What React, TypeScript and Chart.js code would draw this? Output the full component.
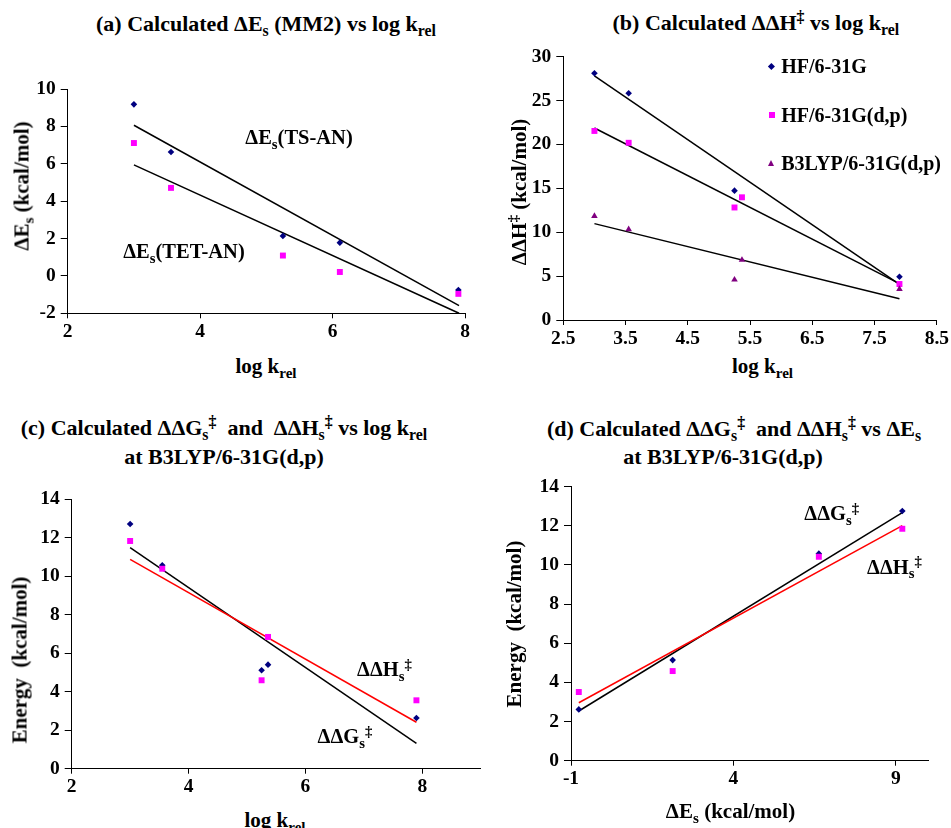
import React, { useEffect, useRef } from 'react';
import { Chart, registerables } from 'chart.js';

Chart.register(...registerables);

const FONT = "'Liberation Serif', 'Times New Roman', serif";
const NAVY = '#000080';
const MAGENTA = '#FF00FF';
const PURPLE = '#800080';
const RED = '#FF0000';
const BLACK = '#000000';

// ---------- Panel (a): ΔEs (MM2) vs log krel ----------
const aLogK = [3.0, 3.56, 5.25, 6.11, 7.9];
const aTsAn = [9.18, 6.63, 2.14, 1.78, -0.75];
const aTetAn = [7.11, 4.71, 1.09, 0.21, -0.96];
const aFitX = [3.0, 7.91];
const aTsFit = [8.06, -1.59];
const aTetFit = [5.94, -2.0];
const aXTicks = [2, 4, 6, 8];
const aYTicks = [-2, 0, 2, 4, 6, 8, 10];

// ---------- Panel (b): ΔΔH‡ vs log krel ----------
const bHfX = [3.0, 3.55, 5.25, 7.9];
const bHfY = [28.12, 25.83, 14.74, 4.92];
const bLogK = [3.0, 3.55, 5.25, 5.37, 7.9];
const bHfDp = [21.54, 20.19, 12.82, 13.98, 4.1];
const bB3lyp = [11.84, 10.34, 4.59, 6.84, 3.53];
const bFitX = [3.0, 7.9];
const bHfFit = [27.82, 4.05];
const bHfDpFit = [21.88, 4.15];
const bB3lypFit = [10.98, 2.41];
const bXTicks = [2.5, 3.5, 4.5, 5.5, 6.5, 7.5, 8.5];
const bYTicks = [0, 5, 10, 15, 20, 25, 30];

// ---------- Panel (c): ΔΔGs‡ and ΔΔHs‡ vs log krel ----------
const cLogK = [3.0, 3.55, 5.25, 5.36, 7.9];
const cDDG = [12.7, 10.56, 5.11, 5.4, 2.63];
const cDDH = [11.82, 10.38, 4.59, 6.84, 3.55];
const cFitX = [3.0, 7.9];
const cDDGFit = [11.47, 1.32];
const cDDHFit = [10.87, 2.41];
const cXTicks = [2, 4, 6, 8];
const cYTicks = [0, 2, 4, 6, 8, 10, 12, 14];

// ---------- Panel (d): ΔΔGs‡ and ΔΔHs‡ vs ΔEs ----------
const dEs = [-0.76, 2.13, 6.63, 9.2];
const dDDG = [2.62, 5.14, 10.58, 12.76];
const dDDH = [3.51, 4.58, 10.42, 11.85];
const dFitX = [-0.76, 9.2];
const dDDGFit = [2.54, 12.67];
const dDDHFit = [2.96, 12.01];
const dXTicks = [-1, 4, 9];
const dYTicks = [0, 2, 4, 6, 8, 10, 12, 14];

const TICK_SIZE = 19.5;
const TITLE_SIZE = 22;
const AXIS_TITLE_SIZE = 21;
const NOTE_SIZE = 20.5;
const LEGEND_SIZE = 20;

const pts = (xs: number[], ys: number[]) => xs.map((x, i) => ({ x, y: ys[i] }));

const scatterDs = (xs: number[], ys: number[], color: string, style: string, radius: number) => ({
  data: pts(xs, ys),
  showLine: false,
  pointStyle: style,
  pointRadius: radius,
  pointBackgroundColor: color,
  pointBorderColor: color,
  pointBorderWidth: 0,
  clip: false,
});

const lineDs = (xs: number[], ys: number[], color: string) => ({
  data: pts(xs, ys),
  showLine: true,
  borderColor: color,
  borderWidth: 1.5,
  pointRadius: 0,
  fill: false,
  clip: false,
});

const axis = (min: number, max: number, ticks: number[], size: number, isX: boolean) => ({
  type: 'linear',
  min,
  max,
  afterBuildTicks: (s: any) => {
    s.ticks = ticks.map((v) => ({ value: v }));
  },
  afterFit: (s: any) => {
    if (isX) s.height = size;
    else s.width = size;
  },
  grid: {
    display: true,
    drawOnChartArea: false,
    drawTicks: true,
    tickLength: isX ? 5 : 7,
    color: BLACK,
    lineWidth: 1,
  },
  border: { display: true, color: BLACK, width: 1 },
  ticks: {
    color: BLACK,
    font: { family: FONT, size: TICK_SIZE, weight: 'bold' },
    padding: isX ? 2 : 5,
    autoSkip: false,
    maxRotation: 0,
    callback: (v: any) => String(v),
  },
});

type Box = { left: number; top: number; width: number; height: number };
type Area = { L: number; T: number; R: number; B: number };

function ChartPanel(props: {
  box: Box;
  area: Area;
  xr: [number, number];
  xTicks: number[];
  yr: [number, number];
  yTicks: number[];
  datasets: any[];
}) {
  const ref = useRef<HTMLCanvasElement>(null);
  const { box, area, xr, xTicks, yr, yTicks, datasets } = props;
  useEffect(() => {
    const chart = new Chart(ref.current as HTMLCanvasElement, {
      type: 'scatter',
      data: { datasets },
      options: {
        animation: false,
        responsive: false,
        events: [],
        layout: {
          autoPadding: false,
          padding: {
            left: 0,
            top: area.T - box.top,
            right: box.left + box.width - area.R,
            bottom: 0,
          },
        },
        plugins: { legend: { display: false }, tooltip: { enabled: false } },
        scales: {
          x: axis(xr[0], xr[1], xTicks, box.top + box.height - area.B, true),
          y: axis(yr[0], yr[1], yTicks, area.L - box.left, false),
        },
      } as any,
    });
    return () => chart.destroy();
  }, []);
  return (
    <canvas
      ref={ref}
      width={box.width}
      height={box.height}
      style={{ position: 'absolute', left: box.left, top: box.top, width: box.width, height: box.height }}
    />
  );
}

const Sub = ({ children }: { children: any }) => (
  <span style={{ fontSize: '0.72em', position: 'relative', top: '0.3em' }}>{children}</span>
);
const Sup = ({ children }: { children: any }) => (
  <span style={{ fontSize: '0.72em', position: 'relative', top: '-0.5em' }}>{children}</span>
);

function Label(props: { x: number; y: number; size?: number; rotate?: boolean; children: any }) {
  const { x, y, size = NOTE_SIZE, rotate = false, children } = props;
  return (
    <div
      style={{
        position: 'absolute',
        left: x,
        top: y,
        transform: `translate(-50%, -50%)${rotate ? ' rotate(-90deg)' : ''}`,
        fontFamily: FONT,
        fontWeight: 'bold',
        fontSize: size,
        lineHeight: 1,
        whiteSpace: 'pre',
        color: BLACK,
      }}
    >
      {children}
    </div>
  );
}

function LegendRow(props: { x: number; y: number; shape: string; color: string; text: string }) {
  const { x, y, shape, color, text } = props;
  let marker: any;
  if (shape === 'diamond') {
    marker = (
      <div
        style={{
          position: 'absolute', left: x - 2.4, top: y - 2.4, width: 4.8, height: 4.8,
          background: color, transform: 'rotate(45deg)',
        }}
      />
    );
  } else if (shape === 'square') {
    marker = <div style={{ position: 'absolute', left: x - 3, top: y - 3, width: 6, height: 6, background: color }} />;
  } else {
    marker = (
      <div
        style={{
          position: 'absolute', left: x - 3.5, top: y - 3.5, width: 0, height: 0,
          borderLeft: '3.5px solid transparent', borderRight: '3.5px solid transparent',
          borderBottom: `6px solid ${color}`,
        }}
      />
    );
  }
  return (
    <>
      {marker}
      <div
        style={{
          position: 'absolute', left: x + 9.5, top: y, transform: 'translateY(-50%)',
          fontFamily: FONT, fontWeight: 'bold', fontSize: LEGEND_SIZE, lineHeight: 1, whiteSpace: 'pre', color: BLACK,
        }}
      >
        {text}
      </div>
    </>
  );
}

export default function App() {
  const aDatasets = [
    scatterDs(aLogK, aTetAn, MAGENTA, 'rect', 4.2),
    scatterDs(aLogK, aTsAn, NAVY, 'rectRot', 3.3),
    lineDs(aFitX, aTsFit, BLACK),
    lineDs(aFitX, aTetFit, BLACK),
  ];
  const bDatasets = [
    scatterDs(bLogK, bB3lyp, PURPLE, 'triangle', 3.8),
    scatterDs(bLogK, bHfDp, MAGENTA, 'rect', 4.2),
    scatterDs(bHfX, bHfY, NAVY, 'rectRot', 3.3),
    lineDs(bFitX, bHfFit, BLACK),
    lineDs(bFitX, bHfDpFit, BLACK),
    lineDs(bFitX, bB3lypFit, BLACK),
  ];
  const cDatasets = [
    scatterDs(cLogK, cDDH, MAGENTA, 'rect', 4.2),
    scatterDs(cLogK, cDDG, NAVY, 'rectRot', 3.3),
    lineDs(cFitX, cDDHFit, RED),
    lineDs(cFitX, cDDGFit, BLACK),
  ];
  const dDatasets = [
    scatterDs(dEs, dDDH, MAGENTA, 'rect', 4.2),
    scatterDs(dEs, dDDG, NAVY, 'rectRot', 3.3),
    lineDs(dFitX, dDDHFit, RED),
    lineDs(dFitX, dDDGFit, BLACK),
  ];

  return (
    <div
      style={{
        position: 'absolute', left: 0, top: 0, width: 951, height: 828,
        background: '#ffffff', overflow: 'hidden',
      }}
    >
      <ChartPanel
        box={{ left: 0, top: 70, width: 480, height: 275 }}
        area={{ L: 67.7, T: 89, R: 465, B: 313.3 }}
        xr={[2, 8]} xTicks={aXTicks} yr={[-2, 10]} yTicks={aYTicks}
        datasets={aDatasets}
      />
      <ChartPanel
        box={{ left: 490, top: 40, width: 461, height: 305 }}
        area={{ L: 563.3, T: 54, R: 937.3, B: 320 }}
        xr={[2.5, 8.5]} xTicks={bXTicks} yr={[0, 30]} yTicks={bYTicks}
        datasets={bDatasets}
      />
      <ChartPanel
        box={{ left: 0, top: 480, width: 490, height: 320 }}
        area={{ L: 71.7, T: 499, R: 480.7, B: 768.7 }}
        xr={[2, 9]} xTicks={cXTicks} yr={[0, 14]} yTicks={cYTicks}
        datasets={cDatasets}
      />
      <ChartPanel
        box={{ left: 490, top: 470, width: 461, height: 330 }}
        area={{ L: 571, T: 486.7, R: 928.3, B: 760.7 }}
        xr={[-1, 10]} xTicks={dXTicks} yr={[0, 14]} yTicks={dYTicks}
        datasets={dDatasets}
      />

      {/* Panel (a) texts */}
      <Label x={266} y={24} size={TITLE_SIZE}>
        (a) Calculated ΔE<Sub>s</Sub> (MM2) vs log k<Sub>rel</Sub>
      </Label>
      <Label x={266} y={366} size={AXIS_TITLE_SIZE}>
        log k<Sub>rel</Sub>
      </Label>
      <Label x={21.7} y={185.7} size={AXIS_TITLE_SIZE} rotate>
        ΔE<Sub>s</Sub> (kcal/mol)
      </Label>
      <Label x={299} y={137.3}>
        ΔE<Sub>s</Sub>(TS-AN)
      </Label>
      <Label x={184} y={251.3}>
        ΔE<Sub>s</Sub>(TET-AN)
      </Label>

      {/* Panel (b) texts */}
      <Label x={755.8} y={23} size={TITLE_SIZE}>
        (b) Calculated ΔΔH<Sup>‡</Sup> vs log k<Sub>rel</Sub>
      </Label>
      <Label x={762.5} y={366} size={AXIS_TITLE_SIZE}>
        log k<Sub>rel</Sub>
      </Label>
      <Label x={519} y={191.7} size={AXIS_TITLE_SIZE} rotate>
        ΔΔH<Sup>‡</Sup> (kcal/mol)
      </Label>
      <LegendRow x={771.7} y={66} shape="diamond" color={NAVY} text="HF/6-31G" />
      <LegendRow x={771.7} y={114.5} shape="square" color={MAGENTA} text="HF/6-31G(d,p)" />
      <LegendRow x={771.7} y={163} shape="triangle" color={PURPLE} text="B3LYP/6-31G(d,p)" />

      {/* Panel (c) texts */}
      <Label x={224} y={428} size={TITLE_SIZE}>
        (c) Calculated ΔΔG<Sub>s</Sub><Sup>‡</Sup>  and  ΔΔH<Sub>s</Sub><Sup>‡</Sup> vs log k<Sub>rel</Sub>
      </Label>
      <Label x={224} y={457} size={TITLE_SIZE}>
        at B3LYP/6-31G(d,p)
      </Label>
      <Label x={275} y={820} size={AXIS_TITLE_SIZE}>
        log k<Sub>rel</Sub>
      </Label>
      <Label x={20} y={660} size={AXIS_TITLE_SIZE} rotate>
        Energy  (kcal/mol)
      </Label>
      <Label x={384.5} y={669.3}>
        ΔΔH<Sub>s</Sub><Sup>‡</Sup>
      </Label>
      <Label x={345} y={736.3}>
        ΔΔG<Sub>s</Sub><Sup>‡</Sup>
      </Label>

      {/* Panel (d) texts */}
      <Label x={734} y={429} size={TITLE_SIZE}>
        (d) Calculated ΔΔG<Sub>s</Sub><Sup>‡</Sup>  and ΔΔH<Sub>s</Sub><Sup>‡</Sup> vs ΔE<Sub>s</Sub>
      </Label>
      <Label x={723} y={457} size={TITLE_SIZE}>
        at B3LYP/6-31G(d,p)
      </Label>
      <Label x={730.5} y={811} size={AXIS_TITLE_SIZE}>
        ΔE<Sub>s</Sub> (kcal/mol)
      </Label>
      <Label x={514} y={624} size={AXIS_TITLE_SIZE} rotate>
        Energy  (kcal/mol)
      </Label>
      <Label x={831.7} y={513.3}>
        ΔΔG<Sub>s</Sub><Sup>‡</Sup>
      </Label>
      <Label x={894.5} y={566.7}>
        ΔΔH<Sub>s</Sub><Sup>‡</Sup>
      </Label>
    </div>
  );
}
